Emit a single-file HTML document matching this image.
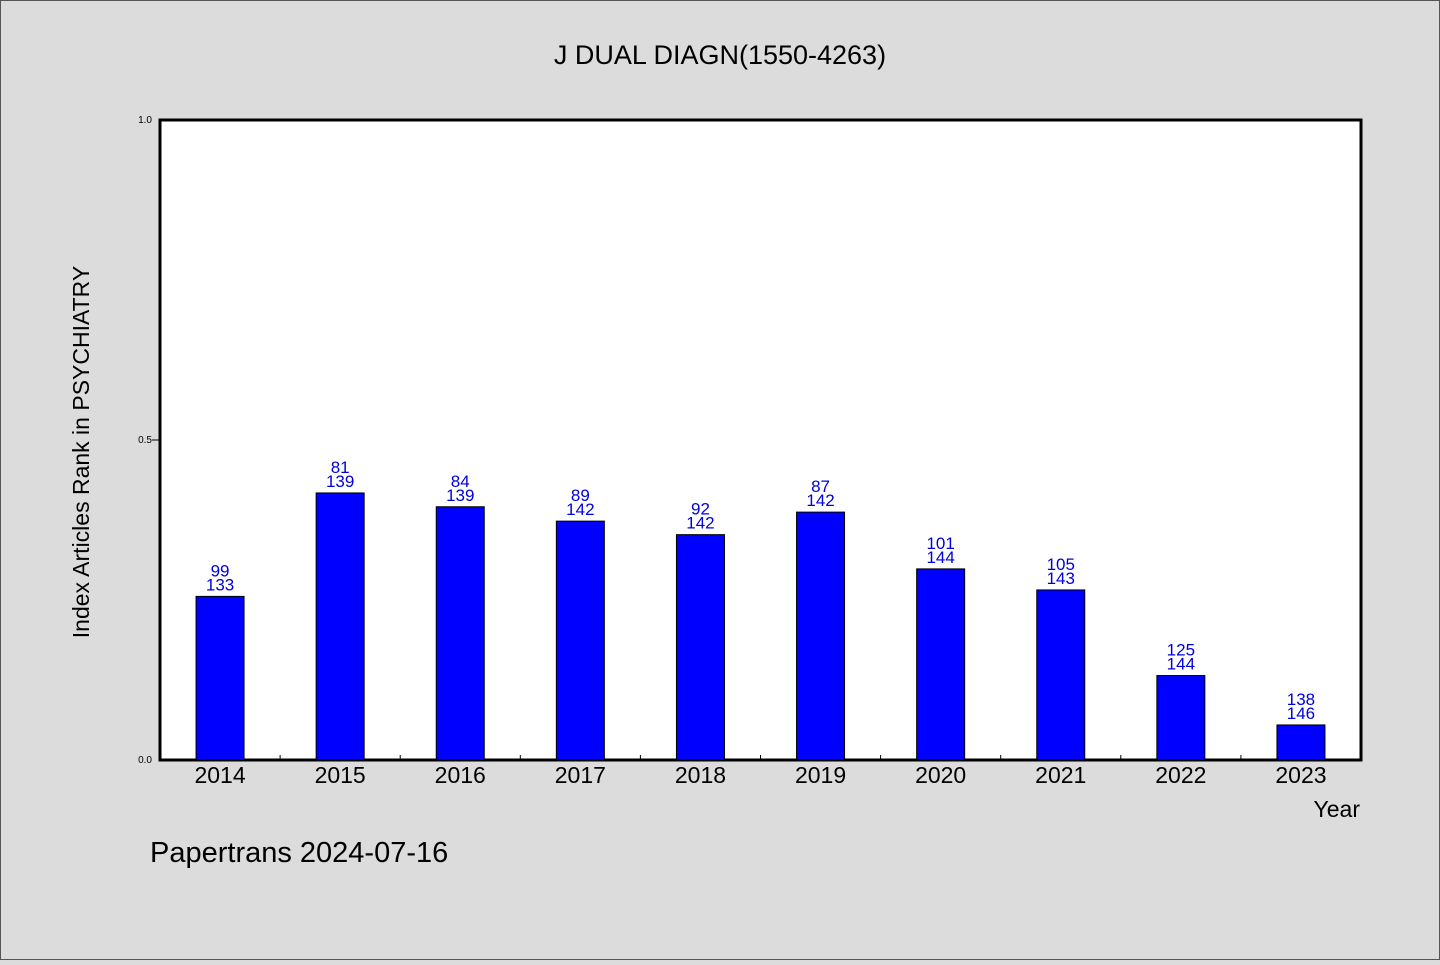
<!DOCTYPE html>
<html><head><meta charset="utf-8">
<style>
html,body{margin:0;padding:0;background:#dcdcdc;}
body{width:1440px;height:960px;overflow:hidden;}
svg text{font-family:"WenQuanYi Zen Hei","Liberation Sans",sans-serif;}
</style></head>
<body>
<svg id="chart" width="1440" height="960" xmlns="http://www.w3.org/2000/svg">
<rect x="0.5" y="0.5" width="1439" height="959" fill="#dcdcdc" stroke="#555" stroke-width="1"/>
<text x="720" y="64" font-size="27" text-anchor="middle" fill="#000">J DUAL DIAGN(1550-4263)</text>
<rect x="160" y="120" width="1201" height="640" fill="#fff" stroke="#000" stroke-width="3"/>
<g id="yaxis"></g>
<g id="bars"></g>
<g id="xaxis"></g>
<text transform="translate(89,452) rotate(-90)" font-size="23" text-anchor="middle" fill="#000">Index Articles Rank in PSYCHIATRY</text>
<text x="1360" y="817" font-size="23" text-anchor="end" fill="#000">Year</text>
<text x="150" y="862" font-size="29" fill="#000">Papertrans 2024-07-16</text>
</svg>
<script>
const years = ["2014","2015","2016","2017","2018","2019","2020","2021","2022","2023"];
const ranks = [99,81,84,89,92,87,101,105,125,138];
const totals = [133,139,139,142,142,142,144,143,144,146];
const yTicks = [0.0,0.5,1.0];
const yTickLabels = ["0.0","0.5","1.0"];

const NS="http://www.w3.org/2000/svg";
const x0=160,x1=1361,yB=760,yT=120;
const n=years.length, step=(x1-x0)/n;
const xC=i=>x0+step*(i+0.5);
const yS=v=>yB-(yB-yT)*v;
function mk(tag,attrs,parent){const e=document.createElementNS(NS,tag);for(const k in attrs)e.setAttribute(k,attrs[k]);parent.appendChild(e);return e;}
const ya=document.getElementById('yaxis'),bg=document.getElementById('bars'),xa=document.getElementById('xaxis');
yTicks.forEach((v,i)=>{
  const y=yS(v);
  if(v>0&&v<1){const l=mk('line',{x1:152,x2:160,y1:y,y2:y,stroke:'#000','stroke-width':1},ya);
  
  }
  const t=mk('text',{x:152,y:y+3,'font-size':10,'text-anchor':'end',fill:'#000'},ya);
  
  
  t.textContent=yTickLabels[i];
});
years.forEach((yr,i)=>{
  const v=1-ranks[i]/totals[i];
  const cx=xC(i),top=yS(v);
  const r=mk('rect',{x:cx-24,y:top,width:48,height:yB-top,fill:'#0000ff',stroke:'#000','stroke-width':1},bg);
  
  
  const t2=mk('text',{x:cx,y:top-6,'font-size':17,'text-anchor':'middle',fill:'#0000dd'},bg);
  
  
  t2.textContent=totals[i];
  const t1=mk('text',{x:cx,y:top-20,'font-size':17,'text-anchor':'middle',fill:'#0000dd'},bg);
  
  
  t1.textContent=ranks[i];
  const xl=mk('text',{x:cx,y:783,'font-size':23,'text-anchor':'middle',fill:'#000'},xa);
  
  
  xl.textContent=yr;
  if(i>0){const tk=mk('line',{x1:x0+step*i,x2:x0+step*i,y1:755,y2:760,stroke:'#000','stroke-width':1},xa);
  
  }
});
</script>
</body></html>
